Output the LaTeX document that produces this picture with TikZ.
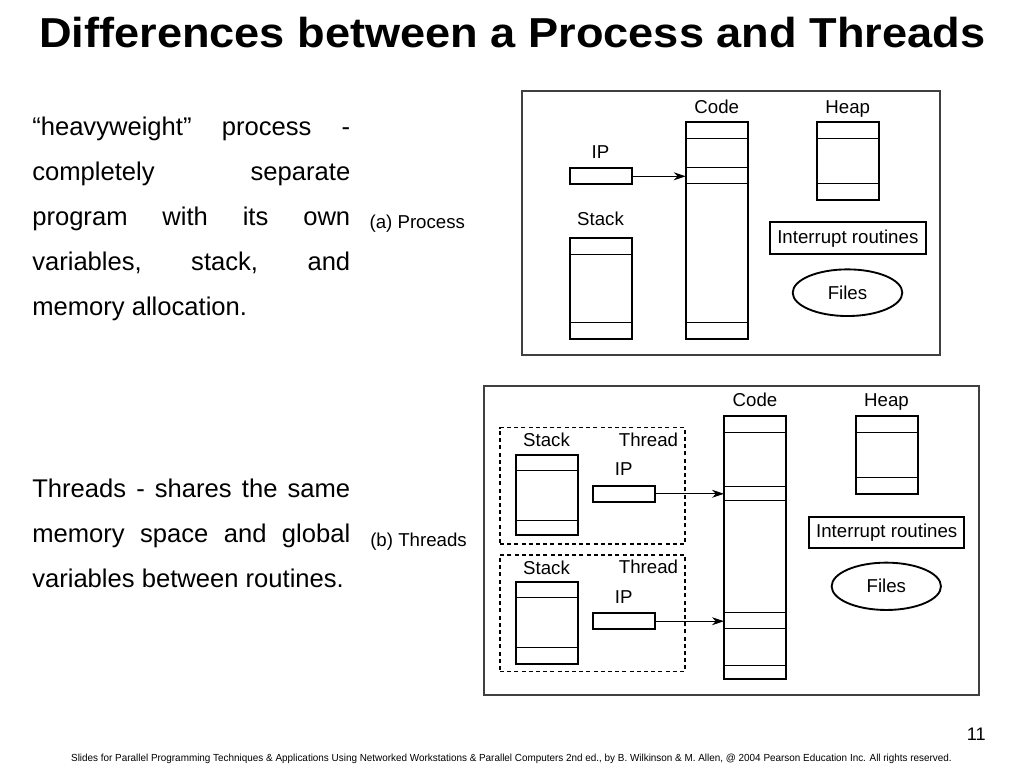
\documentclass[tikz,border=0pt]{standalone}
\usepackage{fontspec}
\setmainfont{Liberation Sans}
\usepackage{tikz}
\usetikzlibrary{positioning}
\usetikzlibrary{calc}
\usetikzlibrary{arrows.meta}
\usetikzlibrary{shapes.geometric}

% thin row lines inside a memory box
\newcommand{\memrows}[2]{%
  \foreach \d in {#2}
    \draw[row] ($(#1.north west)+(0,\d)$) -- ($(#1.north east)+(0,\d)$);}

\begin{document}
\begin{tikzpicture}[
            x = 0.75pt, y = -0.75pt, % one unit = one pixel, y downwards
            > = {Stealth[length=9pt,width=6pt]},
            membox/.style = {draw, line width=1.5pt, inner sep=0pt, outer sep=0pt, minimum width=46.5pt},
            row/.style = {line width=0.7pt},
            frame/.style = {draw=black!75, line width=0.8pt},
            thread/.style = {draw, dashed, dash pattern=on 3pt off 2.4pt, line width=1pt,
                             inner sep=0pt, outer sep=0pt, minimum width=138.75pt},
            lbl/.style = {font=\fontsize{14}{16}\selectfont, inner sep=0pt},
            tag/.style = {lbl, anchor=base},
            body/.style = {font=\fontsize{19.2}{33.75}\selectfont, inner sep=0pt, align=left},
            pointer/.style = {->, line width=0.75pt}
        ]
        \useasboundingbox (0,0) rectangle (1024,768);

        % title
        \node[anchor=base, inner sep=0pt] (title) at (512.2,47.3)
            {\resizebox{709.5pt}{\height}{\fontsize{31.4}{36}\selectfont\bfseries Differences between a Process and Threads}};

        % text on the left
        \node[body, anchor=north west] (proctxt) at (32,116.7)
            {\makebox[238.5pt][s]{“heavyweight” process -}\\
             \makebox[238.5pt][s]{completely separate}\\
             \makebox[238.5pt][s]{program with its own}\\
             \makebox[238.5pt][s]{variables, stack, and}\\
             memory allocation.};
        \node[body, anchor=north west] (thrtxt) at (32,478.4)
            {\makebox[238.5pt][s]{Threads - shares the same}\\
             \makebox[238.5pt][s]{memory space and global}\\
             variables between routines.};

        \node[lbl, anchor=base west] (proccap) at (369.3,228.3) {(a) Process};
        \node[lbl, anchor=base west] (thrcap) at (370,546.7) {(b) Threads};

        % (a) process
        \draw[frame] (522,91) rectangle (940,355);
        \node[membox, minimum height=162.5pt] (codeA) at (716.7,230.7) {};
        \node[membox, minimum height=58.3pt] (heapA) at (847.8,161.2) {};
        \node[membox, minimum height=12pt] (ipA) at (600.5,176.3) {};
        \node[membox, minimum height=75.5pt] (stackA) at (600.5,288.7) {};
        \node[membox, lbl, minimum width=116.8pt, minimum height=24pt] (intA) at (847.8,238.3) {Interrupt routines};
        \node[ellipse, draw, line width=1.4pt, lbl, minimum width=82.2pt, minimum height=35pt] (filesA) at (847.5,292.7) {Files};

        \memrows{codeA}{16,45.4,61.4,200.4}
        \memrows{heapA}{16,61.4}
        \memrows{stackA}{16,84.4}

        \node[above=6.75pt of codeA, tag] (codeAlbl) {Code};
        \node[above=6.75pt of heapA, tag] (heapAlbl) {Heap};
        \node[above=7.5pt of ipA, tag] (ipAlbl) {IP};
        \node[above=10pt of stackA, tag] (stackAlbl) {Stack};

        \draw[pointer] (ipA.east) -- (ipA.east -| codeA.west);

        % (b) threads
        \draw[frame] (484,386) rectangle (979,695);
        \node[membox, minimum height=197.5pt] (codeB) at (755,547.7) {};
        \node[membox, minimum height=58.5pt] (heapB) at (886.5,455) {};
        \node[membox, lbl, minimum width=116.5pt, minimum height=23.7pt] (intB) at (886.7,532.5) {Interrupt routines};
        \node[ellipse, draw, line width=1.4pt, lbl, minimum width=82pt, minimum height=35.5pt] (filesB) at (886.3,586.3) {Files};

        \node[thread, minimum height=87.2pt] (thrA) at (592.5,485.85) {};
        \node[thread, minimum height=87.5pt] (thrB) at (592.5,613.35) {};

        \node[membox, minimum height=60pt] (stackB1) at (546.5,495) {};
        \node[membox, minimum height=61.3pt] (stackB2) at (546.5,623.2) {};
        \node[membox, minimum height=11.8pt] (ipB1) at (623.8,493.8) {};
        \node[membox, minimum height=11.8pt] (ipB2) at (623.8,621.2) {};

        \memrows{codeB}{16.3,70.7,84.7,196.7,212.3,249}
        \memrows{heapB}{16.3,61.7}
        \memrows{stackB1}{15.7,65}
        \memrows{stackB2}{15,65.4}

        \node[above=7pt of codeB, tag] (codeBlbl) {Code};
        \node[above=7pt of heapB, tag] (heapBlbl) {Heap};
        \node[above=6.25pt of stackB1, tag] (stackB1lbl) {Stack};
        \node[above=6.25pt of stackB2, tag] (stackB2lbl) {Stack};
        \node[above=7.5pt of ipB1, tag] (ipB1lbl) {IP};
        \node[above=7.5pt of ipB2, tag] (ipB2lbl) {IP};
        \node[below left=14.25pt and 5pt of thrA.north east, tag, anchor=base east] (thrAlbl) {Thread};
        \node[below left=14pt and 5pt of thrB.north east, tag, anchor=base east] (thrBlbl) {Thread};

        \draw[pointer] (ipB1.east) -- (ipB1.east -| codeB.west);
        \draw[pointer] (ipB2.east) -- (ipB2.east -| codeB.west);

        % footer
        \node[inner sep=0pt, anchor=base east] (pageno) at (986,740) {\fontsize{13.6}{16}\selectfont 11};
        \node[inner sep=0pt, anchor=base] (footer) at (511.5,761)
            {\resizebox{660.5pt}{\height}{\fontsize{7.7}{9}\selectfont Slides for Parallel Programming Techniques \& Applications Using Networked Workstations \& Parallel Computers 2nd ed., by B. Wilkinson \& M. Allen, @ 2004 Pearson Education Inc. All rights reserved.}};
\end{tikzpicture}
\end{document}
